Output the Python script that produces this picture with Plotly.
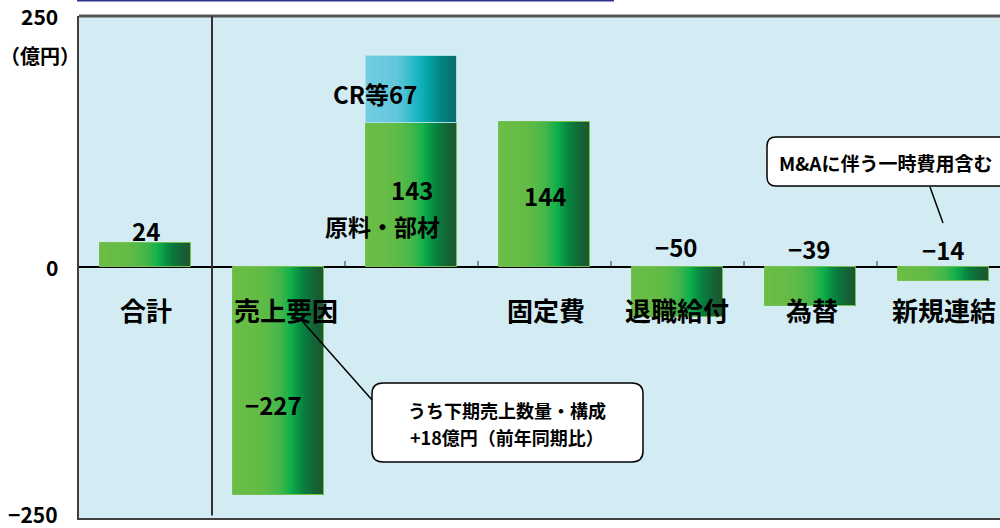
import plotly.graph_objects as go

# ---- data ----
categories = ["合計", "売上要因", "原料・部材", "固定費", "退職給付", "為替", "新規連結"]
values = [24, -227, 143, 144, -50, -39, -14]
cr_category = "原料・部材"
cr_value = 67
cr_label = "CR等"
y_tickvals = [250, 0, -250]
y_ticktext = ["250", "0", "−250"]
unit_label = "（億円）"
callout1 = ["うち下期売上数量・構成", "+18億円（前年同期比）"]
callout2 = "M&Aに伴う一時費用含む"

# ---- layout helpers (pixel geometry of the reference) ----
W, H = 1000, 528
L, R, T, B = 79, 1000, 16, 518
PW, PH = R - L, B - T


def px(x):
    return (x - L) / PW


def py(y):
    return (B - y) / PH


def lerp_color(stops, t):
    for (t0, c0), (t1, c1) in zip(stops[:-1], stops[1:]):
        if t0 <= t <= t1:
            f = 0 if t1 == t0 else (t - t0) / (t1 - t0)
            a = [int(c0[i:i + 2], 16) for i in (1, 3, 5)]
            b = [int(c1[i:i + 2], 16) for i in (1, 3, 5)]
            return "rgb(%d,%d,%d)" % tuple(round(a[k] + (b[k] - a[k]) * f) for k in range(3))
    return stops[-1][1]


green_stops = [(0.0, "#6bbd45"), (0.33, "#62bb46"), (0.52, "#3fb64a"), (0.63, "#0fb04b"),
               (0.77, "#07803f"), (0.9, "#166236"), (1.0, "#1d5730")]
cyan_stops = [(0.0, "#74cde1"), (0.35, "#60c6db"), (0.55, "#1cb6c3"), (0.66, "#07a7ab"),
              (0.82, "#03837f"), (1.0, "#0b6b68")]

BAR_W = 0.677
N = 30
step = BAR_W / N

fig = go.Figure()
for i in range(N):
    t = (i + 0.5) / N
    fig.add_trace(go.Bar(
        x=categories, y=values, width=step * 1.15, offset=-BAR_W / 2 + i * step,
        marker=dict(color=lerp_color(green_stops, t), line=dict(width=0)),
        showlegend=False, hoverinfo="skip"))
    fig.add_trace(go.Bar(
        x=[cr_category], y=[cr_value], base=[values[categories.index(cr_category)]],
        width=step * 1.15, offset=-BAR_W / 2 + i * step,
        marker=dict(color=lerp_color(cyan_stops, t), line=dict(width=0)),
        showlegend=False, hoverinfo="skip"))

# outlines
fig.add_trace(go.Bar(x=categories, y=values, width=BAR_W, offset=-BAR_W / 2,
                     marker=dict(color="rgba(0,0,0,0)", line=dict(color="#74c04f", width=1)),
                     showlegend=False, hoverinfo="skip"))
fig.add_trace(go.Bar(x=[cr_category], y=[cr_value], base=[values[categories.index(cr_category)]],
                     width=BAR_W, offset=-BAR_W / 2,
                     marker=dict(color="rgba(0,0,0,0)", line=dict(color="#a8dfe9", width=1)),
                     showlegend=False, hoverinfo="skip"))

FONT = "Noto Sans CJK JP"
ann = []

# y tick labels
tick_yshift = [0, 0, 4]
for v, t, ys in zip(y_tickvals, y_ticktext, tick_yshift):
    ann.append(dict(xref="paper", yref="y", x=px(60), y=v, xanchor="right", yanchor="middle",
                    yshift=ys, text="<b>%s</b>" % t, showarrow=False,
                    font=dict(size=21, color="black", family=FONT)))

# category labels (below zero, except the one drawn inside its bar)
cat_label_y = -42
cat_xshift = [0, 7, 0, 1, -1, 1, 0]
for i, c in enumerate(categories):
    if c == cr_category:
        ann.append(dict(x=c, y=41, text="<b>%s</b>" % c, xshift=-29, showarrow=False,
                        yanchor="middle", font=dict(size=23, color="black", family=FONT)))
    else:
        ann.append(dict(x=c, y=cat_label_y, text="<b>%s</b>" % c, xshift=cat_xshift[i],
                        yanchor="middle", showarrow=False,
                        font=dict(size=26, color="black", family=FONT)))

# value labels
val_pos = [(36, 0), (-137, -5), (77, 0), (71, 0), (20, -2), (18, -2), (17, -1)]
for i, (c, v) in enumerate(zip(categories, values)):
    yv, xs = val_pos[i]
    txt = str(v).replace("-", "−")
    ann.append(dict(x=c, y=yv, text="<b>%s</b>" % txt, xshift=xs, showarrow=False,
                    yanchor="middle", font=dict(size=24, color="black", family=FONT)))
ann.append(dict(x=cr_category, y=173, text="<b>%s%d</b>" % (cr_label, cr_value), xshift=-37,
                yanchor="middle", showarrow=False,
                font=dict(size=24, color="black", family=FONT)))

# unit label
ann.append(dict(xref="paper", yref="paper", x=px(40), y=py(55), xanchor="center", yanchor="middle",
                text="<b>%s</b>" % unit_label,
                showarrow=False, font=dict(size=20, color="black", family=FONT)))

# callout texts
ann.append(dict(xref="paper", yref="paper", x=px(507), y=py(410), xanchor="center", yanchor="middle",
                text="<b>%s</b>" % callout1[0],
                showarrow=False, font=dict(size=18, color="black", family=FONT)))
ann.append(dict(xref="paper", yref="paper", x=px(507), y=py(437), xanchor="center", yanchor="middle",
                text="<b>%s</b>" % callout1[1],
                showarrow=False, font=dict(size=18, color="black", family=FONT)))
ann.append(dict(xref="paper", yref="paper", x=px(777), y=py(163), xanchor="left", yanchor="middle",
                text="<b>%s</b>" % callout2,
                showarrow=False, font=dict(size=19, color="black", family=FONT)))


def rounded(x0, y0, x1, y1, r):
    X = lambda v: "%.5f" % px(v)
    Y = lambda v: "%.5f" % py(v)
    return ("M %s,%s L %s,%s Q %s,%s %s,%s L %s,%s Q %s,%s %s,%s L %s,%s Q %s,%s %s,%s "
            "L %s,%s Q %s,%s %s,%s Z") % (
        X(x0 + r), Y(y0), X(x1 - r), Y(y0), X(x1), Y(y0), X(x1), Y(y0 + r),
        X(x1), Y(y1 - r), X(x1), Y(y1), X(x1 - r), Y(y1),
        X(x0 + r), Y(y1), X(x0), Y(y1), X(x0), Y(y1 - r),
        X(x0), Y(y0 + r), X(x0), Y(y0), X(x0 + r), Y(y0))


shapes = [
    # top border
    dict(type="line", xref="paper", yref="paper", x0=0, x1=1, y0=1, y1=1,
         line=dict(color="#555555", width=3)),
    # faint blue line at very top
    dict(type="line", xref="paper", yref="paper", x0=px(77), x1=px(614), y0=py(0.5), y1=py(0.5),
         line=dict(color="#2e3192", width=2)),
    # separator
    dict(type="line", xref="x", yref="paper", x0=0.5, x1=0.5, y0=0.005, y1=1,
         line=dict(color="#333333", width=2)),
    # callout leaders
    dict(type="line", xref="paper", yref="paper", x0=px(303), y0=py(322), x1=px(373), y1=py(401),
         line=dict(color="black", width=1.5)),
    dict(type="line", xref="paper", yref="paper", x0=px(930), y0=py(187), x1=px(943), y1=py(223),
         line=dict(color="black", width=1.5)),
    # callout boxes
    dict(type="path", xref="paper", yref="paper", path=rounded(372, 383, 643, 462, 11),
         fillcolor="white", line=dict(color="black", width=1.5)),
    dict(type="path", xref="paper", yref="paper", path=rounded(767, 137, 1015, 186, 9),
         fillcolor="white", line=dict(color="black", width=1.5)),
]
for b in [1.5, 2.5, 3.5, 4.5, 5.5]:
    shapes.append(dict(type="line", xref="x", yref="y", x0=b, x1=b, y0=0, y1=6,
                       line=dict(color="#333333", width=1)))

fig.update_layout(
    width=W, height=H,
    margin=dict(l=L, r=W - R, t=T, b=H - B, pad=0),
    paper_bgcolor="white", plot_bgcolor="#d3ecf3",
    barmode="overlay", bargap=0,
    font=dict(family=FONT, color="black"),
    xaxis=dict(type="category", categoryorder="array", categoryarray=categories,
               range=[-0.5, -0.5 + PW / 133.0], showticklabels=False, ticks="",
               showgrid=False, zeroline=False, showline=True, linecolor="#404040", linewidth=2),
    yaxis=dict(range=[-250, 250], tickvals=y_tickvals, showticklabels=False,
               ticks="", showgrid=False,
               zeroline=True, zerolinecolor="black", zerolinewidth=1.5,
               showline=True, linecolor="#404040", linewidth=2),
    annotations=ann,
    shapes=shapes,
)

fig.write_html("out.html")
